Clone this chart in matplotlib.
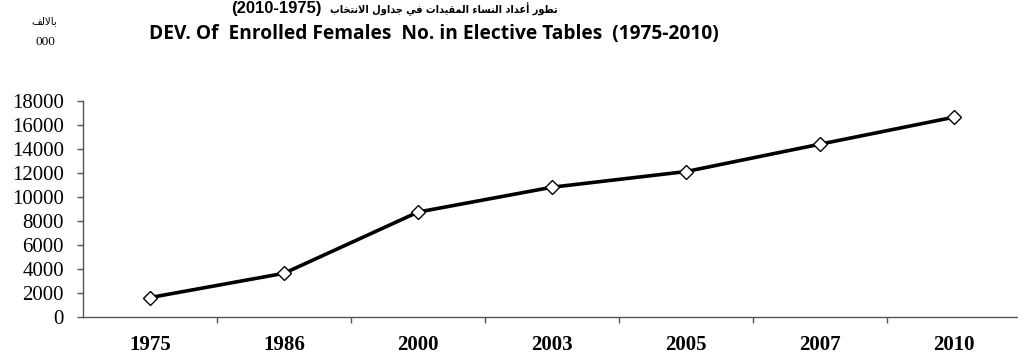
import matplotlib
matplotlib.use("Agg")
import matplotlib.pyplot as plt
from matplotlib.ticker import FixedLocator

# ---- data ----
years = ["1975", "1986", "2000", "2003", "2005", "2007", "2010"]
females_thousands = [1600, 3630, 8750, 10830, 12140, 14430, 16690]
y_ticks = [0, 2000, 4000, 6000, 8000, 10000, 12000, 14000, 16000, 18000]

title_en = "DEV. Of  Enrolled Females  No. in Elective Tables  (1975-2010)"
title_ar_words = ["تطور", "أعداد", "النساء", "المقيدات", "في", "جداول", "الانتخاب"]
title_ar_years = "(2010-1975)"
unit_ar = "بالالف"
unit_num = "000"

# ---- minimal Arabic shaping (presentation forms, visual order) ----
FORMS = {  # iso, fin, ini, med  (None => right-joining only)
    'ا': (0xFE8D, 0xFE8E, None, None),
    'أ': (0xFE83, 0xFE84, None, None),
    'ب': (0xFE8F, 0xFE90, 0xFE91, 0xFE92),
    'ت': (0xFE95, 0xFE96, 0xFE97, 0xFE98),
    'ج': (0xFE9D, 0xFE9E, 0xFE9F, 0xFEA0),
    'خ': (0xFEA5, 0xFEA6, 0xFEA7, 0xFEA8),
    'د': (0xFEA9, 0xFEAA, None, None),
    'ر': (0xFEAD, 0xFEAE, None, None),
    'س': (0xFEB1, 0xFEB2, 0xFEB3, 0xFEB4),
    'ط': (0xFEC1, 0xFEC2, 0xFEC3, 0xFEC4),
    'ع': (0xFEC9, 0xFECA, 0xFECB, 0xFECC),
    'ف': (0xFED1, 0xFED2, 0xFED3, 0xFED4),
    'ق': (0xFED5, 0xFED6, 0xFED7, 0xFED8),
    'ل': (0xFEDD, 0xFEDE, 0xFEDF, 0xFEE0),
    'م': (0xFEE1, 0xFEE2, 0xFEE3, 0xFEE4),
    'ن': (0xFEE5, 0xFEE6, 0xFEE7, 0xFEE8),
    'و': (0xFEED, 0xFEEE, None, None),
    'ي': (0xFEF1, 0xFEF2, 0xFEF3, 0xFEF4),
    'ء': (0xFE80, None, None, None),
}
LAMALEF = {'ا': (0xFEFB, 0xFEFC), 'أ': (0xFEF7, 0xFEF8)}


def joins_next(ch):
    f = FORMS.get(ch)
    return f is not None and f[2] is not None


def shape_word(word):
    units = []
    i = 0
    while i < len(word):
        if word[i] == 'ل' and i + 1 < len(word) and word[i + 1] in LAMALEF:
            units.append(('LA', word[i + 1]))
            i += 2
        else:
            units.append(('C', word[i]))
            i += 1
    out = []
    for k, (kind, ch) in enumerate(units):
        prev_joins = False
        if k > 0:
            pk, pc = units[k - 1]
            prev_joins = (pk == 'C' and joins_next(pc))
        if kind == 'LA':
            iso, fin = LAMALEF[ch]
            out.append(chr(fin if prev_joins else iso))
            continue
        f = FORMS[ch]
        can_next = joins_next(ch) and k + 1 < len(units)
        if prev_joins and f[1] is not None:
            code = f[3] if can_next else f[1]
        else:
            code = f[2] if can_next else f[0]
        out.append(chr(code))
    return ''.join(reversed(out))


def visual_ar(words):
    return ' '.join(shape_word(w) for w in reversed(words))


# ---- figure ----
W, H = 1018, 358
fig = plt.figure(figsize=(W / 100, H / 100), dpi=100)
ax = fig.add_axes([83 / W, 1 - 316.7 / H, (1021 - 83) / W, (316.7 - 101.5) / H])

x = list(range(len(years)))
ax.plot(x, females_thousands, color="black", lw=2.6, marker="D", ms=6.8,
        mfc="white", mec="black", mew=1.0, zorder=3, clip_on=False)

ax.set_xlim(-0.5, len(years) - 0.5)
ax.set_ylim(y_ticks[0], y_ticks[-1])
ax.set_yticks(y_ticks)
ax.set_yticklabels([str(v) for v in y_ticks], family="Liberation Serif", fontsize=15)
ax.set_xticks(x)
ax.set_xticklabels(years, family="Liberation Serif", fontsize=15, fontweight="bold")
ax.xaxis.set_minor_locator(FixedLocator([i + 0.5 for i in range(len(years) - 1)]))
ax.tick_params(axis="x", which="major", length=0, pad=13.5)
ax.tick_params(axis="x", which="minor", length=4, width=1, color="#555555", direction="out")
ax.tick_params(axis="y", which="major", length=4.3, width=1, color="#555555",
               direction="out", pad=9.5)

for s in ("top", "right"):
    ax.spines[s].set_visible(False)
for s in ("left", "bottom"):
    ax.spines[s].set_color("#555555")
    ax.spines[s].set_linewidth(1)

# titles
fig.text(322 / W, 1 - 13 / H, title_ar_years, ha="right", va="baseline",
         fontsize=12, fontweight="bold", family="Liberation Sans")
fig.text(330 / W, 1 - 13 / H, visual_ar(title_ar_words), ha="left", va="baseline",
         fontsize=7.8, fontweight="bold", fontstretch="condensed", family="DejaVu Sans")
fig.text(434 / W, 1 - 39.5 / H, title_en, ha="center", va="baseline",
         fontsize=13.8, fontweight="bold", family="Open Sans")
fig.text(44 / W, 1 - 24 / H, shape_word(unit_ar), ha="center", va="baseline",
         fontsize=7.5, family="DejaVu Sans")
fig.text(45 / W, 1 - 45 / H, unit_num, ha="center", va="baseline",
         fontsize=9.5, family="Liberation Serif")

fig.savefig("out.png", dpi=100)
